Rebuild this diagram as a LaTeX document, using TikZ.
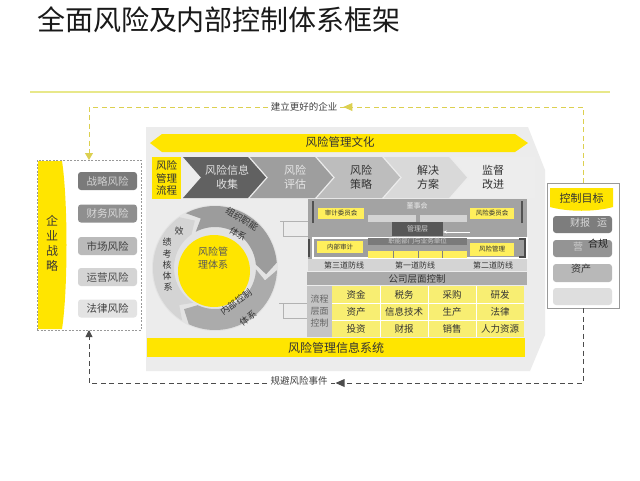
\documentclass[tikz,border=0pt]{standalone}
\usepackage{fontspec}
\setmainfont{Noto Sans CJK SC}
\usetikzlibrary{arrows.meta,calc}
\definecolor{ybright}{HTML}{FFE500}
\definecolor{ypale}{HTML}{F8EE72}
\definecolor{ybox}{HTML}{FFEF5C}
\definecolor{ydash}{HTML}{DCD050}
\definecolor{topline}{HTML}{E8E88A}
\definecolor{panel}{HTML}{ECECEC}
\definecolor{txt}{HTML}{333333}
\newcommand{\fs}[2]{\fontsize{#1}{#2}\selectfont}
\newcommand{\mychev}[2]{\fill[#2] (#1,157) -- ({#1+65},157) -- ({#1+83},177.5) -- ({#1+65},198) -- (#1,198) -- ({#1+18},177.5) -- cycle;}
\begin{document}
\begin{tikzpicture}[x=1pt,y=-1pt,
  every node/.style={inner sep=0pt,outer sep=0pt},
  lab/.style={text=txt,align=center},
  rbox/.style={rounded corners=3pt,minimum width=59pt,minimum height=18pt,font=\fs{10.5}{12}},
  tbox/.style={rounded corners=3pt,minimum width=59pt,minimum height=17pt},
  ybx/.style={fill=ybox,text=txt,font=\fs{6.5}{7.5}},
  cell/.style={text=txt,font=\fs{9.5}{11}},
  ring/.style={text=txt,font=\fs{9}{10}},
  ydashl/.style={draw=ydash,line width=0.9pt,dash pattern=on 5pt off 3.5pt},
  gdashl/.style={draw=black!70,line width=0.9pt,dash pattern=on 5pt off 3.5pt},
  conn/.style={draw=black!30,line width=0.6pt}]
\useasboundingbox (0,0) rectangle (640,480);
\fill[white] (0,0) rectangle (640,480);
% title
\node[anchor=west,font=\fs{28}{30},text=black!90] (title) at (37,20) {全面风险及内部控制体系框架};
\draw[topline,line width=1.6pt] (30,92) -- (610,92);

% main panel
\fill[panel] (146,127) -- (528,127) -- (545,170) -- (545,335) -- (530,371) -- (146,371) -- cycle;

% culture band
\fill[ybright] (150,143) -- (162,134) -- (515,134) -- (528,143) -- (515,152) -- (162,152) -- cycle;
\node[lab,font=\fs{11.5}{13}] (cult) at (340,142.5) {风险管理文化};

% process row
\node[fill=ybright,minimum width=29pt,minimum height=42pt,lab,font=\fs{10.5}{12.5}] (flow) at (166.5,178) {风险\\管理\\流程};
\mychev{183}{black!62}
\mychev{250}{black!38}
\mychev{317}{black!26}
\mychev{384}{black!15}
\fill[black!7] (451,157) -- (535,157) -- (535,198) -- (451,198) -- (469,177.5) -- cycle;
\node[align=center,text=black!12,font=\fs{11}{13.5}] (c1) at (227,177.5) {风险信息\\收集};
\node[align=center,text=black!10,font=\fs{11}{13.5}] (c2) at (295,177.5) {风险\\评估};
\node[lab,font=\fs{11}{13.5}] (c3) at (361,177.5) {风险\\策略};
\node[lab,font=\fs{11}{13.5}] (c4) at (428,177.5) {解决\\方案};
\node[lab,font=\fs{11}{13.5}] (c5) at (493,177.5) {监督\\改进};

% ring
\fill[black!11] (215,268) circle[radius=63];
\fill[black!39] plot[domain=-118:-5,samples=40,variable=\t] ({215+62*cos(\t)},{268+62*sin(\t)})
  -- ({215+51.5*cos(7)},{268+51.5*sin(7)})
  -- plot[domain=-5:-118,samples=40,variable=\t] ({215+41*cos(\t)},{268+41*sin(\t)})
  -- ({215+51.5*cos(-106)},{268+51.5*sin(-106)}) -- cycle;
\fill[black!33] plot[domain=2:115,samples=40,variable=\t] ({215+62*cos(\t)},{268+62*sin(\t)})
  -- ({215+51.5*cos(127)},{268+51.5*sin(127)})
  -- plot[domain=115:2,samples=40,variable=\t] ({215+41*cos(\t)},{268+41*sin(\t)})
  -- ({215+51.5*cos(14)},{268+51.5*sin(14)}) -- cycle;
\fill[black!17] plot[domain=122:235,samples=40,variable=\t] ({215+62*cos(\t)},{268+62*sin(\t)})
  -- ({215+51.5*cos(247)},{268+51.5*sin(247)})
  -- plot[domain=235:122,samples=40,variable=\t] ({215+41*cos(\t)},{268+41*sin(\t)})
  -- ({215+51.5*cos(134)},{268+51.5*sin(134)}) -- cycle;
\node[circle,fill=ybright,minimum size=72pt] (core) at (214,271) {};
\node[align=center,text=black!65,font=\fs{10}{13}] (coretxt) at (213,258) {风险管\\理体系};
\node[ring,rotate=-32] (ringA1) at (242,219) {组织职能};
\node[ring,rotate=-32] (ringA2) at (238,234) {体系};
\node[ring,rotate=36] (ringB1) at (236,302) {内部控制};
\node[ring,rotate=36] (ringB2) at (248,318) {体系};
\node[ring] (j1) at (167,242) {绩};
\node[ring] (j2) at (179,231) {效};
\node[ring] (j3) at (167,254) {考};
\node[ring] (j4) at (167,265) {核};
\node[ring] (j5) at (167,276) {体};
\node[ring] (j6) at (168,287) {系};
% ring to org connectors
\coordinate (k1) at (280,221); \coordinate (k2) at (308,221);
\coordinate (k3) at (283,221); \coordinate (k4) at (283,236); \coordinate (k5) at (308,236);
\draw[conn] (k1) -- (k2); \draw[conn] (k3) -- (k4) -- (k5);
\coordinate (m1) at (279,303); \coordinate (m2) at (307,303);
\coordinate (m3) at (283,303); \coordinate (m4) at (283,318); \coordinate (m5) at (307,318);
\draw[conn] (m1) -- (m2); \draw[conn] (m3) -- (m4) -- (m5);

% org structure
\fill[black!36] (308,199) rectangle (527,259);
\draw[black!68,line width=1.2pt] (313,223) -- (313,201);
\draw[black!68,line width=1.2pt] (522,223) -- (522,201);
\node[text=black!8,font=\fs{7}{8}] (dsh) at (417,205.5) {董事会};
\node[ybx,minimum width=46pt,minimum height=11pt] (sjw) at (341,213.5) {审计委员会};
\node[ybx,minimum width=44pt,minimum height=11pt] (fxw) at (492,213.5) {风险委员会};
\fill[black!17] (368,215) rectangle (416,222);
\fill[black!17] (420,215) rectangle (467,222);
\node[fill=black!66,text=black!18,font=\fs{7}{8},minimum width=51pt,minimum height=14pt] (glc) at (417.5,229) {管理层};
\coordinate (wa) at (470,232);
\draw[white,line width=1pt,-{Stealth[length=4pt]}] (wa) -- (glc.east |- wa);
\fill[black!38] (313,238) rectangle (527,258);
\draw[white,line width=1.3pt] (313,238) rectangle (527,258);
\node[fill=black!52,text=black!20,font=\fs{6.5}{7.5},minimum width=99pt,minimum height=7pt] (znbm) at (417.5,241.5) {职能部门与业务单位};
\node[ybx,minimum width=46pt,minimum height=12pt] (nbsj) at (340,247) {内部审计};
\node[ybx,minimum width=44pt,minimum height=13pt] (fxgl) at (492,249.5) {风险管理};
\fill[ybox] (368,251) rectangle (467,258);
\draw[black!50,line width=0.8pt] (393,251) -- (393,258) (418,251) -- (418,258) (442,251) -- (442,258);
\draw[black!70,line width=1.2pt] (519,239) -- (525,239) -- (525,257) -- (519,257);
\draw[black!70,line width=1.2pt] (309,239) -- (309,257);
\fill[black!17] (308,259) rectangle (527,271);
\node[lab,font=\fs{8}{9}] (l3) at (344,265) {第三道防线};
\node[lab,font=\fs{8}{9}] (l1) at (415,265) {第一道防线};
\node[lab,font=\fs{8}{9}] (l2) at (493,265) {第二道防线};
\node[fill=black!33,lab,font=\fs{9.5}{11},minimum width=220pt,minimum height=13pt] (gscm) at (417,278.5) {公司层面控制};

% process-level control
\node[fill=black!23,text=black!60,align=center,font=\fs{9}{12},minimum width=25pt,minimum height=51pt] (lccm) at (319.5,311.5) {流程\\层面\\控制};
\fill[ypale] (332,286) rectangle (524,337);
\draw[white,line width=0.8pt] (380,286) -- (380,337) (428,286) -- (428,337) (476,286) -- (476,337) (332,303) -- (524,303) (332,320) -- (524,320);
\node[cell] (g11) at (356,294.5) {资金};
\node[cell] (g12) at (404,294.5) {税务};
\node[cell] (g13) at (452,294.5) {采购};
\node[cell] (g14) at (500,294.5) {研发};
\node[cell] (g21) at (356,311.5) {资产};
\node[cell] (g22) at (404,311.5) {信息技术};
\node[cell] (g23) at (452,311.5) {生产};
\node[cell] (g24) at (500,311.5) {法律};
\node[cell] (g31) at (356,328.5) {投资};
\node[cell] (g32) at (404,328.5) {财报};
\node[cell] (g33) at (452,328.5) {销售};
\node[cell] (g34) at (500,328.5) {人力资源};
\node[fill=ybright,lab,font=\fs{12}{14},minimum width=378pt,minimum height=19pt] (xxxt) at (336,347.5) {风险管理信息系统};

% left box
\node[draw=black!40,dash pattern=on 2pt off 1.5pt,line width=0.8pt,minimum width=104pt,minimum height=170pt] (lbox) at (89,245) {};
\fill[ybright] (38,161) -- (62,161) .. controls (68,200) and (68,290) .. (62,329) -- (38,329) -- cycle;
\node[align=center,text=black!70!yellow!40!black,font=\fs{12}{15}] (qyzl) at (52,243) {企\\业\\战\\略};
\node[rbox,fill=black!52,text=black!18] (r1) at (107.5,181) {战略风险};
\node[rbox,fill=black!44,text=black!15] (r2) at (107.5,213.5) {财务风险};
\node[rbox,fill=black!27,text=black!75] (r3) at (107.5,246) {市场风险};
\node[rbox,fill=black!17,text=black!70] (r4) at (107.5,277) {运营风险};
\node[rbox,fill=black!11,text=black!75] (r5) at (107.5,308.5) {法律风险};

% control target box
\node[draw=black!40,fill=white,line width=0.8pt,minimum width=72pt,minimum height=125pt] (ctrlbox) at (583,245.5) {};
\fill[ybright] (550,188) -- (613,188) -- (613,207) .. controls (595,212) and (568,212) .. (550,207) -- cycle;
\node[lab,font=\fs{11}{13}] (kzmb) at (581.5,198) {控制目标};
\node[tbox,fill=black!51] (t1) at (582.5,224.5) {};
\node[tbox,fill=black!42] (t2) at (582.5,248.5) {};
\node[tbox,fill=black!28,minimum height=18pt] (t3) at (582.5,273) {};
\node[tbox,fill=black!13] (t4) at (582.5,296.5) {};
\node[text=black!15,font=\fs{10}{11}] (t1a) at (580,223) {财报};
\node[text=black!15,font=\fs{10}{11}] (t1b) at (602,223) {运};
\node[text=black!20,font=\fs{10}{11}] (t2a) at (578,247) {营};
\node[text=black!88,font=\fs{10}{11}] (t2b) at (598,244) {合规};
\node[text=black!80,font=\fs{10}{11}] (t3a) at (581,269) {资产};

% dashed feedback loops
\coordinate (tR) at (583,107);
\coordinate (tL) at (89,107);
\draw[ydashl,-{Triangle[length=7pt,width=8pt]}] (ctrlbox.north) -- (tR) -- (tL) -- (lbox.north);
\node[fill=white,inner xsep=3pt,inner ysep=2pt,text=black!75,font=\fs{9.5}{11}] (toplbl) at (304,107) {建立更好的企业};
\fill[ydash] ($(toplbl.east)+(3,0)$) -- ++(9,-4) -- ++(0,8) -- cycle;
\coordinate (bR) at (583,383);
\coordinate (bL) at (89,383);
\draw[gdashl,-{Triangle[length=7pt,width=7pt]}] (ctrlbox.south) -- (bR) -- (bL) -- (lbox.south);
\node[fill=white,inner xsep=3pt,inner ysep=2pt,text=black!75,font=\fs{9.5}{11}] (botlbl) at (299,381) {规避风险事件};
\fill[black!70] ($(botlbl.east)+(5,2)$) -- ++(9,-4) -- ++(0,8) -- cycle;
\end{tikzpicture}
\end{document}
